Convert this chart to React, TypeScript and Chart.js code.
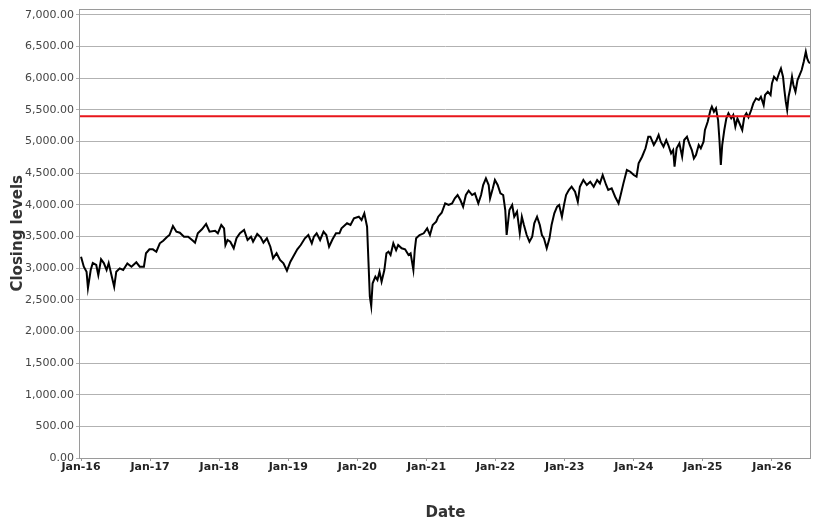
import { useEffect, useRef } from 'react';
import { Chart, registerables } from 'chart.js';
Chart.register(...registerables);

// decimal years (Jan-16 = 2016.00)
const dates = [
  2016.00, 2016.04, 2016.08, 2016.10, 2016.14, 2016.17, 2016.22, 2016.25, 2016.29, 2016.33,
  2016.37, 2016.40, 2016.44, 2016.48, 2016.51, 2016.56, 2016.61, 2016.67, 2016.73, 2016.80,
  2016.85, 2016.91, 2016.94, 2016.99, 2017.04, 2017.09, 2017.14, 2017.19, 2017.24, 2017.28,
  2017.33, 2017.38, 2017.43, 2017.49, 2017.55, 2017.62, 2017.65, 2017.69, 2017.75, 2017.81,
  2017.86, 2017.94, 2017.98, 2018.03, 2018.07, 2018.09, 2018.12, 2018.16, 2018.21, 2018.25,
  2018.30, 2018.36, 2018.41, 2018.46, 2018.49, 2018.55, 2018.60, 2018.64, 2018.69, 2018.74,
  2018.78, 2018.83, 2018.88, 2018.93, 2018.98, 2019.03, 2019.07, 2019.13, 2019.18, 2019.24,
  2019.29, 2019.34, 2019.37, 2019.41, 2019.46, 2019.51, 2019.55, 2019.59, 2019.64, 2019.69,
  2019.74, 2019.77, 2019.85, 2019.90, 2019.95, 2020.02, 2020.06, 2020.10, 2020.14, 2020.16,
  2020.18, 2020.20, 2020.22, 2020.26, 2020.29, 2020.32, 2020.35, 2020.39, 2020.42, 2020.45,
  2020.48, 2020.52, 2020.56, 2020.59, 2020.64, 2020.69, 2020.74, 2020.77, 2020.81, 2020.83,
  2020.85, 2020.90, 2020.96, 2021.01, 2021.05, 2021.09, 2021.14, 2021.17, 2021.22, 2021.27,
  2021.32, 2021.37, 2021.41, 2021.45, 2021.49, 2021.53, 2021.57, 2021.61, 2021.66, 2021.70,
  2021.75, 2021.79, 2021.82, 2021.86, 2021.90, 2021.92, 2021.96, 2021.99, 2022.03, 2022.07,
  2022.11, 2022.14, 2022.16, 2022.20, 2022.24, 2022.27, 2022.31, 2022.35, 2022.38, 2022.41,
  2022.45, 2022.49, 2022.53, 2022.56, 2022.60, 2022.64, 2022.67, 2022.70, 2022.74, 2022.78,
  2022.81, 2022.85, 2022.89, 2022.92, 2022.96, 2022.99, 2023.02, 2023.06, 2023.10, 2023.15,
  2023.19, 2023.22, 2023.27, 2023.32, 2023.37, 2023.42, 2023.47, 2023.51, 2023.55, 2023.60,
  2023.63, 2023.68, 2023.73, 2023.78, 2023.81, 2023.85, 2023.90, 2023.95, 2024.00, 2024.04,
  2024.07, 2024.12, 2024.17, 2024.21, 2024.24, 2024.29, 2024.33, 2024.36, 2024.39, 2024.43,
  2024.47, 2024.50, 2024.54, 2024.57, 2024.59, 2024.62, 2024.66, 2024.70, 2024.73, 2024.77,
  2024.81, 2024.84, 2024.87, 2024.90, 2024.94, 2024.97, 2025.01, 2025.03, 2025.07, 2025.11,
  2025.13, 2025.16, 2025.19, 2025.22, 2025.24, 2025.26, 2025.28, 2025.31, 2025.34, 2025.37,
  2025.41, 2025.44, 2025.47, 2025.50, 2025.54, 2025.57, 2025.60, 2025.63, 2025.66, 2025.70,
  2025.73, 2025.77, 2025.81, 2025.84, 2025.88, 2025.90, 2025.94, 2025.98, 2026.00, 2026.03,
  2026.07, 2026.11, 2026.13, 2026.16, 2026.18, 2026.20, 2026.22, 2026.24, 2026.26, 2026.29,
  2026.31, 2026.34, 2026.37, 2026.40, 2026.43, 2026.46, 2026.49, 2026.51, 2026.53, 2026.55,
];

const closes = [
  3180, 3022, 2943, 2686, 2970, 3080, 3050, 2890, 3139, 3080,
  2970, 3080, 2890, 2706, 2943, 2996, 2970, 3075, 3022, 3092,
  3022, 3022, 3234, 3297, 3297, 3259, 3392, 3433, 3487, 3523,
  3665, 3575, 3560, 3496, 3496, 3433, 3401, 3550, 3613, 3697,
  3575, 3591, 3550, 3681, 3629, 3365, 3444, 3417, 3313, 3471,
  3550, 3602, 3444, 3496, 3417, 3539, 3487, 3401, 3471, 3338,
  3155, 3234, 3128, 3075, 2959, 3101, 3180, 3297, 3365, 3471,
  3523, 3392, 3496, 3550, 3444, 3575, 3523, 3338, 3455, 3550,
  3550, 3629, 3708, 3681, 3787, 3812, 3760, 3866, 3654, 3100,
  2548, 2401, 2760, 2864, 2812, 2943, 2785, 2970, 3234, 3259,
  3207, 3392, 3286, 3365, 3313, 3297, 3207, 3234, 2970, 3286,
  3471, 3523, 3550, 3629, 3523, 3681, 3733, 3812, 3875, 4023,
  3997, 4023, 4102, 4155, 4076, 3970, 4155, 4223, 4155, 4181,
  4023, 4155, 4313, 4419, 4313, 4102, 4260, 4392, 4313, 4180,
  4155, 3918, 3523, 3918, 3997, 3812, 3891, 3550, 3812, 3681,
  3523, 3417, 3496, 3708, 3812, 3681, 3523, 3471, 3313, 3471,
  3681, 3866, 3970, 3997, 3812, 3997, 4155, 4234, 4286, 4207,
  4049, 4286, 4392, 4313, 4365, 4286, 4392, 4339, 4471, 4313,
  4234, 4260, 4128, 4023, 4155, 4339, 4550, 4523, 4471, 4444,
  4655, 4760, 4893, 5076, 5076, 4945, 5024, 5103, 4997, 4918,
  5024, 4945, 4813, 4866, 4602, 4893, 4971, 4760, 5024, 5076,
  4945, 4866, 4734, 4787, 4945, 4893, 4997, 5182, 5313, 5498,
  5550, 5471, 5524, 5340, 5024, 4629, 4945, 5182, 5366, 5445,
  5366, 5419, 5234, 5366, 5261, 5182, 5392, 5445, 5382, 5498,
  5603, 5682, 5656, 5708, 5577, 5735, 5787, 5735, 5918, 6023,
  5971, 6102, 6155, 6023, 5813, 5629, 5498, 5708, 5813, 6023,
  5893, 5787, 5971, 6050, 6129, 6260, 6418, 6313, 6260, 6234,
];

const yTickValues = [0, 500, 1000, 1500, 2000, 2500, 3000, 3500, 4000, 4500, 5000, 5500, 6000, 6500, 7000];
const xTickYears = [2016, 2017, 2018, 2019, 2020, 2021, 2022, 2023, 2024, 2025, 2026];

const referenceLevel = 5400;
const xMin = 2015.985;
const xMax = 2026.565;
const yMax = 7100;

const fmt = (v: number) =>
  v.toLocaleString('en-US', { minimumFractionDigits: 2, maximumFractionDigits: 2 });

// grey frame round the plot area
const frame = {
  id: 'frame',
  afterDraw(chart: Chart) {
    const { ctx, chartArea: a } = chart;
    ctx.save();
    ctx.strokeStyle = '#9a9a9a';
    ctx.lineWidth = 1;
    ctx.strokeRect(Math.round(a.left) - 0.5, Math.round(a.top) + 0.5, Math.round(a.right - a.left), Math.round(a.bottom - a.top));
    ctx.restore();
  },
};

export default function App() {
  const canvasRef = useRef<HTMLCanvasElement>(null);
  const chartRef = useRef<Chart | null>(null);

  useEffect(() => {
    if (!canvasRef.current) return;
    if (chartRef.current) chartRef.current.destroy();

    chartRef.current = new Chart(canvasRef.current, {
      type: 'line',
      data: {
        datasets: [
          {
            label: 'Close',
            data: dates.map((d, i) => ({ x: d, y: closes[i] })),
            borderColor: '#000',
            borderWidth: 2,
            pointRadius: 0,
            tension: 0,
            order: 2,
          },
          {
            label: 'Reference',
            data: [{ x: xMin, y: referenceLevel }, { x: xMax, y: referenceLevel }],
            borderColor: '#e8161b',
            borderWidth: 2,
            pointRadius: 0,
            order: 1,
          },
        ],
      },
      options: {
        animation: false,
        responsive: true,
        maintainAspectRatio: false,
        layout: { padding: { top: 8, right: 19, bottom: 0, left: 0 } },
        plugins: { legend: { display: false }, tooltip: { enabled: false } },
        scales: {
          x: {
            type: 'linear',
            min: xMin,
            max: xMax,
            afterFit: (s: any) => { s.height = 70; },
            afterBuildTicks: (s: any) => { s.ticks = xTickYears.map(v => ({ value: v })); },
            border: { display: false },
            grid: { drawOnChartArea: false, drawTicks: true, tickLength: 3, color: '#9a9a9a' },
            ticks: {
              autoSkip: false,
              maxRotation: 0,
              padding: 0,
              color: '#222',
              font: { family: 'DejaVu Sans', size: 11, weight: 'bold' },
              callback: (v: number | string) => 'Jan-' + String(Math.round(Number(v))).slice(2),
            },
            title: {
              display: true,
              text: 'Date',
              color: '#333',
              font: { family: 'DejaVu Sans', size: 15, weight: 'bold' },
              padding: { top: 0, bottom: 6 },
            },
          },
          y: {
            min: 0,
            max: yMax,
            afterFit: (s: any) => { s.width = 80; },
            afterBuildTicks: (s: any) => { s.ticks = yTickValues.map(v => ({ value: v })); },
            border: { display: false },
            grid: { color: '#b2b2b2', tickLength: 4 },
            ticks: {
              autoSkip: false,
              padding: 2,
              color: '#444',
              font: { family: 'DejaVu Sans', size: 11 },
              callback: (v: number | string) => fmt(Number(v)),
            },
            title: {
              display: true,
              text: 'Closing levels',
              color: '#333',
              font: { family: 'DejaVu Sans', size: 15, weight: 'bold' },
              padding: { top: 9, bottom: 0 },
            },
          },
        },
      },
      plugins: [frame],
    });

    return () => { chartRef.current?.destroy(); };
  }, []);

  return (
    <div style={{ position: 'absolute', left: 0, top: 0, width: 830, height: 528, background: '#fff' }}>
      <canvas ref={canvasRef} role="img" aria-label="Closing levels by date" />
    </div>
  );
}
